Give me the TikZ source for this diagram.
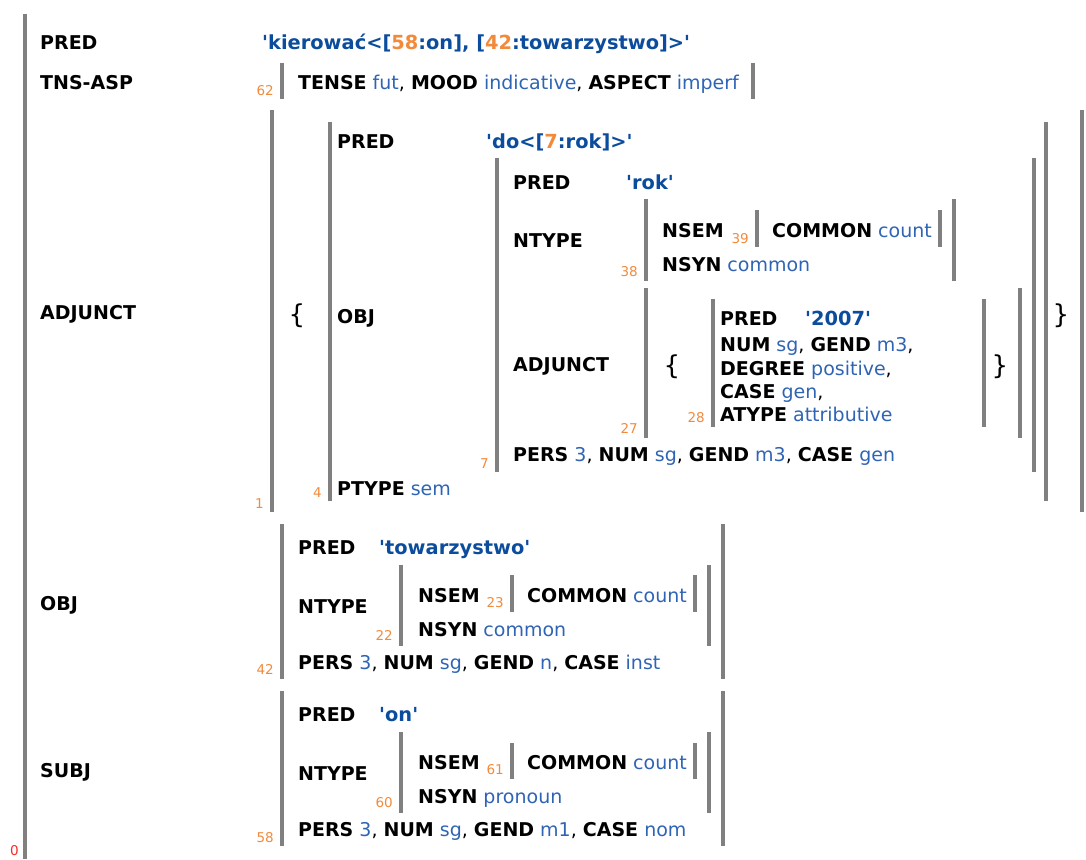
\documentclass[tikz,border=0pt]{standalone}
\usepackage{fontspec}
\setmainfont{DejaVu Sans}[Ligatures=TeXOff]
\usetikzlibrary{positioning}
\definecolor{fbar}{RGB}{128,128,128}
\definecolor{fval}{RGB}{47,100,180}
\definecolor{fpred}{RGB}{12,76,156}
\definecolor{fidx}{RGB}{242,138,60}
\definecolor{froot}{RGB}{250,40,40}
\newcommand{\fa}[1]{\textbf{#1}}
\newcommand{\fv}[1]{\textcolor{fval}{#1}}
\newcommand{\fn}[1]{\textcolor{fidx}{#1}}

\begin{document}
\begin{tikzpicture}[x=1pt, y=-1pt,
  attr/.style={anchor=base west, inner sep=0pt, font=\fontsize{19}{23}\selectfont\bfseries},
  row/.style={anchor=base west, inner sep=0pt, font=\fontsize{19}{23}\selectfont},
  predval/.style={anchor=base west, inner sep=0pt, text=fpred, font=\fontsize{19.4}{23}\selectfont\bfseries},
  idx/.style={anchor=base east, inner sep=0pt, text=fidx, font=\fontsize{13.5}{15}\selectfont},
  brace/.style={inner sep=0pt, font=\fontsize{26}{30}\selectfont},
  bar/.style={draw=fbar, line width=3.6pt}]
  \useasboundingbox (0,0) rectangle (1086,859);

  % bars of the f-structures and sets
  \foreach \x/\top/\bot in {25/14/859, 282/63/99, 753/63/99, 272/110/512, 1082/110/512,
      330/122/501, 1046/122/501, 497/158/472, 1034/158/472, 646/199/281, 954/199/281,
      757/210/247, 940/210/247, 646/288/438, 1020/288/438, 713/299/427, 984/299/427,
      282/524/679, 723/524/679, 401/565/646, 709/565/646, 512/575/612, 695/575/612,
      282/691/846, 723/691/846, 401/732/813, 709/732/813, 512/743/779, 695/743/779} {
    \draw[bar] (\x,\top) -- (\x,\bot);
  }

  % indices
  \node[idx, text=froot] (i0) at (19,855) {0};
  \foreach \name/\x/\y in {62/274/95, 1/264/508, 4/322/497, 7/489/468, 38/638/276,
      39/749/243, 27/638/433, 28/705/422, 42/274/674, 22/393/640, 23/504/607,
      58/274/842, 60/393/807, 61/504/774} {
    \node[idx] (i\name) at (\x,\y) {\name};
  }

  % f0
  \node[attr] (pred0) at (40,49) {PRED};
  \node[predval] (pred0v) at (262,49) {'kierować<[\fn{58}:on], [\fn{42}:towarzystwo]>'};
  \node[attr] (tns0) at (40,89) {TNS-ASP};
  \node[attr] (adj0) at (40,319) {ADJUNCT};
  \node[attr] (obj0) at (40,610) {OBJ};
  \node[attr] (subj0) at (40,777) {SUBJ};

  % f62
  \node[row] (tense62) at (298,89) {\fa{TENSE} \fv{fut}, \fa{MOOD} \fv{indicative}, \fa{ASPECT} \fv{imperf}};

  % set 1 and f4
  \node[brace] (lb1) at (297,316) {\{};
  \node[brace] (rb1) at (1061,316) {\}};
  \node[attr] (pred4) at (337,148) {PRED};
  \node[predval] (pred4v) at (486,148) {'do<[\fn{7}:rok]>'};
  \node[attr] (obj4) at (337,323) {OBJ};
  \node[row] (ptype4) at (337,495) {\fa{PTYPE} \fv{sem}};

  % f7
  \node[attr] (pred7) at (513,189) {PRED};
  \node[predval] (pred7v) at (626,189) {'rok'};
  \node[attr] (ntype7) at (513,247) {NTYPE};
  \node[attr] (adj7) at (513,371) {ADJUNCT};
  \node[row] (pers7) at (513,461) {\fa{PERS} \fv{3}, \fa{NUM} \fv{sg}, \fa{GEND} \fv{m3}, \fa{CASE} \fv{gen}};

  % f38, f39
  \node[attr] (nsem38) at (662,237) {NSEM};
  \node[row] (nsyn38) at (662,271) {\fa{NSYN} \fv{common}};
  \node[row] (common39) at (772,237) {\fa{COMMON} \fv{count}};

  % set 27 and f28
  \node[brace] (lb27) at (672,367) {\{};
  \node[brace] (rb27) at (1000,367) {\}};
  \node[attr] (pred28) at (720,325) {PRED};
  \node[predval] (pred28v) at (805,325) {'2007'};
  \node[row] (num28) at (720,351) {\fa{NUM} \fv{sg}, \fa{GEND} \fv{m3},};
  \node[row] (deg28) at (720,375) {\fa{DEGREE} \fv{positive},};
  \node[row] (case28) at (720,398) {\fa{CASE} \fv{gen},};
  \node[row] (atype28) at (720,421) {\fa{ATYPE} \fv{attributive}};

  % f42, f22, f23
  \node[attr] (pred42) at (298,554) {PRED};
  \node[predval] (pred42v) at (379,554) {'towarzystwo'};
  \node[attr] (ntype42) at (298,613) {NTYPE};
  \node[row] (pers42) at (298,669) {\fa{PERS} \fv{3}, \fa{NUM} \fv{sg}, \fa{GEND} \fv{n}, \fa{CASE} \fv{inst}};
  \node[attr] (nsem22) at (418,602) {NSEM};
  \node[row] (nsyn22) at (418,636) {\fa{NSYN} \fv{common}};
  \node[row] (common23) at (527,602) {\fa{COMMON} \fv{count}};

  % f58, f60, f61
  \node[attr] (pred58) at (298,721) {PRED};
  \node[predval] (pred58v) at (379,721) {'on'};
  \node[attr] (ntype58) at (298,780) {NTYPE};
  \node[row] (pers58) at (298,836) {\fa{PERS} \fv{3}, \fa{NUM} \fv{sg}, \fa{GEND} \fv{m1}, \fa{CASE} \fv{nom}};
  \node[attr] (nsem60) at (418,769) {NSEM};
  \node[row] (nsyn60) at (418,803) {\fa{NSYN} \fv{pronoun}};
  \node[row] (common61) at (527,769) {\fa{COMMON} \fv{count}};
\end{tikzpicture}
\end{document}
